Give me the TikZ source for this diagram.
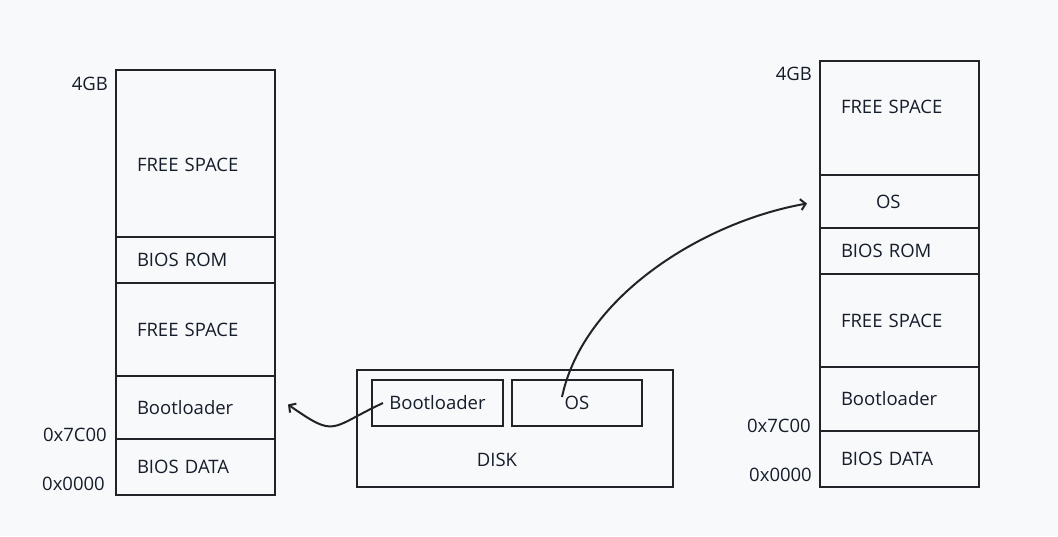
\documentclass[tikz,border=0pt]{standalone}
\usepackage{fontspec}
\setmainfont{Open Sans}
\usetikzlibrary{positioning,arrows.meta}
\definecolor{bgcol}{HTML}{F8F9FA}
\definecolor{inkcol}{HTML}{202328}
\definecolor{txtcol}{HTML}{151D2B}

\begin{document}
\begin{tikzpicture}[
	x=1pt,y=1pt,
	node distance=0pt,
	memfont/.style={font=\fontsize{18.5}{22}\selectfont,text=txtcol},
	cell/.style={memfont,draw=inkcol,line width=2pt,minimum width=159pt,text width=117pt,
		inner xsep=21pt,inner ysep=0pt,outer sep=0pt,align=left},
	box/.style={memfont,draw=inkcol,line width=2pt,inner sep=0pt,outer sep=0pt},
	addr/.style={memfont,inner sep=0pt},
	conn/.style={draw=inkcol,line width=2pt,-{Straight Barb[length=5pt,width=11pt]}}
	]
	\fill[bgcol] (0,0) rectangle (1058,-536);
	\useasboundingbox (0,0) rectangle (1058,-536);
	% memory before loading
	\node[cell,minimum height=167pt,text height=36pt,anchor=north west] (lfree1) at (116,-70) {FREE SPACE};
	\node[cell,minimum height=46pt,below=of lfree1] (lrom) {BIOS ROM};
	\node[cell,minimum height=93pt,below=of lrom] (lfree2) {FREE SPACE};
	\node[cell,minimum height=63pt,below=of lfree2] (lboot) {Bootloader};
	\node[cell,minimum height=56pt,below=of lboot] (ldata) {BIOS DATA};
	\node[addr,below left=7pt and 8pt of lfree1.north west] (ltop) {4GB};
	\node[addr,above left=-3pt and 9pt of ldata.north west] (lmbr) {0x7C00};
	\node[addr,above left=4pt and 11pt of ldata.south west] (lzero) {0x0000};
	% memory after loading
	\node[cell,minimum height=114pt,text depth=22pt,anchor=north west] (rfree1) at (820,-61) {FREE SPACE};
	\node[cell,minimum height=53pt,below=of rfree1] (ros) {\hspace*{35pt}OS};
	\node[cell,minimum height=46pt,below=of ros] (rrom) {BIOS ROM};
	\node[cell,minimum height=93pt,below=of rrom] (rfree2) {FREE SPACE};
	\node[cell,minimum height=64pt,below=of rfree2] (rboot) {Bootloader};
	\node[cell,minimum height=56pt,below=of rboot] (rdata) {BIOS DATA};
	\node[addr,below left=6pt and 8pt of rfree1.north west] (rtop) {4GB};
	\node[addr,above left=-2pt and 9pt of rdata.north west] (rmbr) {0x7C00};
	\node[addr,above left=5pt and 8pt of rdata.south west] (rzero) {0x0000};
	% disk
	\node[box,minimum width=316pt,minimum height=117pt,anchor=north west] (disk) at (357,-370) {};
	\node[addr] (disklabel) at (497,-460) {DISK};
	\node[box,minimum width=131pt,minimum height=46pt] (dboot) at (437.5,-403) {Bootloader};
	\node[box,minimum width=130pt,minimum height=46pt] (dos) at (577,-403) {OS};
	\draw[conn] ([xshift=11pt]dboot.west) to[out=205,in=-35,looseness=1.6] ([xshift=13pt,yshift=3pt]lboot.east);
	\draw[conn] ([xshift=-15pt,yshift=6pt]dos.center) to[out=78,in=190,looseness=0.85] ([xshift=-13pt,yshift=-2pt]ros.west);
\end{tikzpicture}
\end{document}
